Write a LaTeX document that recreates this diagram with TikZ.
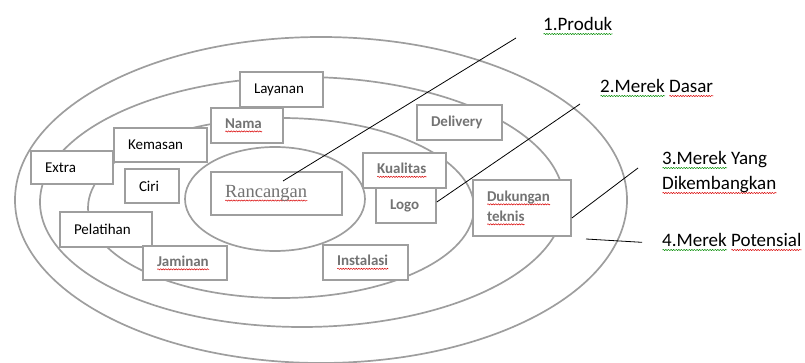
\documentclass[tikz,border=0pt]{standalone}
\usepackage{fontspec}
\setmainfont{Carlito}
\newfontfamily\timesfont{Liberation Serif}
\usetikzlibrary{decorations.pathmorphing}
\tikzset{squig/.style={line width=0.5pt,decorate,decoration={snake,amplitude=0.6pt,segment length=2.6pt}}}
\newsavebox\wavebox
\newcommand\wavy[2]{\leavevmode\sbox\wavebox{#2}\rlap{\tikz[baseline=0pt,x=1pt,y=1pt]\draw[squig,#1](0,-3)--(\the\wd\wavebox,-3);}\usebox\wavebox}
\newcommand\redwave[1]{\wavy{red!85!black}{#1}}
\newcommand\greenwave[1]{\wavy{green!55!black}{#1}}
\begin{document}
\begin{tikzpicture}[x=1pt,y=-1pt,
  ring/.style={draw=black!38,line width=1.7pt},
  box/.style={draw=black!38,line width=1.7pt,fill=white,inner xsep=14pt,inner ysep=0pt,minimum height=35pt,align=left,font=\fontsize{15}{20}\selectfont},
  dim/.style={text=black!55,font=\fontsize{15}{20}\selectfont\bfseries},
  lbl/.style={anchor=base west,inner sep=0pt,align=left,font=\fontsize{19}{25}\selectfont}]
\useasboundingbox (0,0) rectangle (805,363);
\draw[ring] (321,200) ellipse (306 and 163);
\draw[ring] (302,202) ellipse (262 and 125);
\draw[ring] (281,208) ellipse (193 and 90);
\draw[ring] (275,199) ellipse (90 and 52);
\node[box,text width=55pt] (layanan) at (281.5,89.5) {Layanan};
\node[box,dim,text width=44pt] (nama) at (247,125.5) {\redwave{Nama}};
\node[box,text width=65pt,minimum height=34pt] (kemasan) at (160.5,145) {Kemasan};
\node[box,text width=54pt,minimum height=33pt] (extra) at (72,167.5) {Extra};
\node[box,text width=26pt,minimum height=34pt] (ciri) at (152,186) {Ciri};
\node[box,text width=103pt,minimum height=43pt,text=black!55,font=\fontsize{18.5}{22}\timesfont] (rancangan) at (276.5,193.5) {\redwave{Rancangan}};
\node[box,text width=64pt] (pelatihan) at (106,229.5) {Pelatihan};
\node[box,dim,text width=56pt,minimum height=34pt] (jaminan) at (185,263) {\redwave{Jaminan}};
\node[box,dim,text width=57pt] (instalasi) at (365.5,262.5) {\redwave{Instalasi}};
\node[box,dim,text width=55pt] (kualitas) at (404.5,170.5) {\redwave{Kualitas}};
\node[box,dim,text width=32pt] (logo) at (406,205.5) {Logo};
\node[box,dim,text width=57pt] (delivery) at (459.5,122.5) {Delivery};
\node[box,dim,text width=70pt,minimum height=56pt] (dukungan) at (522,208) {\redwave{Dukungan}\\\redwave{teknis}};
\node[lbl] (produk) at (543,31) {\greenwave{1.Produk}};
\node[lbl] (dasar) at (600,93) {\greenwave{2.Merek} \redwave{Dasar}};
\node[lbl] (kembang) at (662,190) {\greenwave{3.Merek} Yang\\\redwave{Dikembangkan}};
\node[lbl] (potensial) at (662,247) {\greenwave{4.Merek} \redwave{Potensial}};
\coordinate (c1) at (516,38);
\coordinate (c2) at (580,104);
\coordinate (c3) at (638,168);
\coordinate (c4) at (586,239);
\draw[line width=0.8pt] ([xshift=6.5pt,yshift=12.5pt]rancangan.center) -- (c1);
\draw[line width=0.8pt] ([yshift=3.5pt]logo.east) -- (c2);
\draw[line width=0.8pt] ([yshift=-10pt]dukungan.east) -- (c3);
\draw[line width=0.8pt] (c4) -- ([xshift=-20pt]potensial.west);
\end{tikzpicture}
\end{document}
